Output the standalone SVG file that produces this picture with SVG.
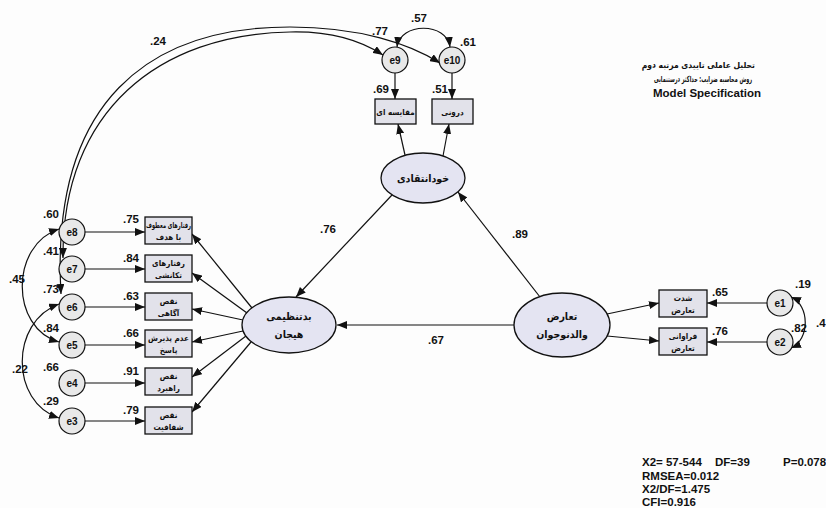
<svg xmlns="http://www.w3.org/2000/svg" width="826" height="508" viewBox="0 0 826 508">
<style>
.bg{fill:#fdfdfd}
.ln{fill:none;stroke:#111;stroke-width:1.2}
.box{fill:#e2e2ea;stroke:#111;stroke-width:1.3}
.lat{fill:#e4e4f2;stroke:#111;stroke-width:1.3}
.err{fill:#e8e8e8;stroke:#111;stroke-width:1.2}
.num{font-family:"Liberation Sans",Arial,sans-serif;font-size:11.5px;font-weight:bold;fill:#111}
.en{font-family:"Liberation Sans",Arial,sans-serif;font-size:10px;font-weight:bold;fill:#111;text-anchor:middle}
.fa{font-family:"DejaVu Sans Condensed","DejaVu Sans",sans-serif;font-size:8px;font-weight:bold;fill:#111;text-anchor:middle}
.fl{font-family:"DejaVu Sans Condensed","DejaVu Sans",sans-serif;font-size:10.5px;font-weight:bold;fill:#111;text-anchor:middle}
.ti{font-family:"DejaVu Sans Condensed","DejaVu Sans",sans-serif;font-size:8.5px;font-weight:bold;fill:#111;text-anchor:end}
.fit{font-family:"Liberation Sans",Arial,sans-serif;font-size:11.5px;font-weight:bold;fill:#111}
</style>
<defs>
<marker id="ah" viewBox="0 0 10 8" refX="10" refY="4" markerWidth="10" markerHeight="8" markerUnits="userSpaceOnUse" orient="auto-start-reverse"><path d="M0,0 L10,4 L0,8 z" fill="#111"/></marker>
</defs>
<rect class="bg" x="0" y="0" width="826" height="508"/>

<g id="connectors">
  <path class="ln" d="M63,258 C62,110 160,34 290,32 C330,31 360,40 383,55" marker-start="url(#ah)" marker-end="url(#ah)"/>
  <path class="ln" d="M61,294 C50,100 150,27 290,27 C360,27 410,44 440,63" marker-start="url(#ah)" marker-end="url(#ah)"/>
  <path class="ln" d="M397,47 C400,22 447,22 450,47" marker-start="url(#ah)" marker-end="url(#ah)"/>
  <path class="ln" d="M791,297 C810,305 810,340 791,348" marker-start="url(#ah)" marker-end="url(#ah)"/>
  <path class="ln" d="M59,229 C10,245 10,328 59,342" marker-start="url(#ah)" marker-end="url(#ah)"/>
  <path class="ln" d="M59,304 C10,322 10,402 59,418" marker-start="url(#ah)" marker-end="url(#ah)"/>
  <line class="ln" x1="85" y1="232" x2="145" y2="232" marker-end="url(#ah)"/>
  <line class="ln" x1="85" y1="269" x2="145" y2="269" marker-end="url(#ah)"/>
  <line class="ln" x1="85" y1="307" x2="145" y2="307" marker-end="url(#ah)"/>
  <line class="ln" x1="85" y1="345" x2="145" y2="345" marker-end="url(#ah)"/>
  <line class="ln" x1="85" y1="383" x2="145" y2="383" marker-end="url(#ah)"/>
  <line class="ln" x1="85" y1="421" x2="145" y2="421" marker-end="url(#ah)"/>
  <line class="ln" x1="395" y1="73" x2="395" y2="99" marker-end="url(#ah)"/>
  <line class="ln" x1="452" y1="73" x2="452" y2="99" marker-end="url(#ah)"/>
  <line class="ln" x1="767" y1="303" x2="707" y2="303" marker-end="url(#ah)"/>
  <line class="ln" x1="767" y1="342" x2="707" y2="342" marker-end="url(#ah)"/>
  <line class="ln" x1="252" y1="308" x2="192" y2="234" marker-end="url(#ah)"/>
  <line class="ln" x1="247" y1="313" x2="192" y2="273" marker-end="url(#ah)"/>
  <line class="ln" x1="243" y1="320" x2="192" y2="309" marker-end="url(#ah)"/>
  <line class="ln" x1="243" y1="331" x2="192" y2="342" marker-end="url(#ah)"/>
  <line class="ln" x1="246" y1="336" x2="192" y2="377" marker-end="url(#ah)"/>
  <line class="ln" x1="251" y1="342" x2="192" y2="412" marker-end="url(#ah)"/>
  <line class="ln" x1="405" y1="155" x2="398" y2="124" marker-end="url(#ah)"/>
  <line class="ln" x1="443" y1="156" x2="449" y2="124" marker-end="url(#ah)"/>
  <line class="ln" x1="607" y1="314" x2="659" y2="303" marker-end="url(#ah)"/>
  <line class="ln" x1="607" y1="336" x2="659" y2="341" marker-end="url(#ah)"/>
  <line class="ln" x1="392" y1="195" x2="296" y2="297" marker-end="url(#ah)"/>
  <line class="ln" x1="540" y1="297" x2="458" y2="192" marker-end="url(#ah)"/>
  <line class="ln" x1="514" y1="325" x2="337" y2="325" marker-end="url(#ah)"/>
</g>

<g id="e8"><circle class="err" cx="72" cy="232" r="13"/><text class="en" x="72" y="236">e8</text></g>
<g id="e7"><circle class="err" cx="72" cy="269" r="13"/><text class="en" x="72" y="273">e7</text></g>
<g id="e6"><circle class="err" cx="72" cy="307" r="13"/><text class="en" x="72" y="311">e6</text></g>
<g id="e5"><circle class="err" cx="72" cy="345" r="13"/><text class="en" x="72" y="349">e5</text></g>
<g id="e4"><circle class="err" cx="72" cy="383" r="13"/><text class="en" x="72" y="387">e4</text></g>
<g id="e3"><circle class="err" cx="72" cy="421" r="13"/><text class="en" x="72" y="425">e3</text></g>
<g id="e9"><circle class="err" cx="395" cy="60" r="13"/><text class="en" x="395" y="64">e9</text></g>
<g id="e10"><circle class="err" cx="452" cy="60" r="13"/><text class="en" x="452" y="64">e10</text></g>
<g id="e1"><circle class="err" cx="780" cy="303" r="13"/><text class="en" x="780" y="307">e1</text></g>
<g id="e2"><circle class="err" cx="780" cy="342" r="13"/><text class="en" x="780" y="346">e2</text></g>

<g id="goal"><rect class="box" x="145" y="217" width="47" height="27"/><text class="fa" x="168.5" y="228" textLength="45" lengthAdjust="spacingAndGlyphs">رفتارهای معطوف</text><text class="fa" x="168.5" y="240">با هدف</text></g>
<g id="impulse"><rect class="box" x="145" y="255" width="47" height="27"/><text class="fa" x="168.5" y="266">رفتارهای</text><text class="fa" x="168.5" y="278">تکانشی</text></g>
<g id="awareness"><rect class="box" x="145" y="293" width="47" height="27"/><text class="fa" x="168.5" y="304">نقص</text><text class="fa" x="168.5" y="316">آگاهی</text></g>
<g id="nonaccept"><rect class="box" x="145" y="330" width="47" height="27"/><text class="fa" x="168.5" y="341">عدم پذیرش</text><text class="fa" x="168.5" y="353">پاسخ</text></g>
<g id="strategy"><rect class="box" x="145" y="368" width="47" height="27"/><text class="fa" x="168.5" y="379">نقص</text><text class="fa" x="168.5" y="391">راهبرد</text></g>
<g id="clarity"><rect class="box" x="145" y="407" width="47" height="27"/><text class="fa" x="168.5" y="418">نقص</text><text class="fa" x="168.5" y="430">شفافیت</text></g>
<g id="compare"><rect class="box" x="375" y="99" width="41" height="25"/><text class="fa" x="395.5" y="114.5">مقایسه ای</text></g>
<g id="internal"><rect class="box" x="432" y="99" width="41" height="25"/><text class="fa" x="452.5" y="114.5">درونی</text></g>
<g id="intensity"><rect class="box" x="659" y="290" width="48" height="27"/><text class="fa" x="683" y="301">شدت</text><text class="fa" x="683" y="313">تعارض</text></g>
<g id="frequency"><rect class="box" x="659" y="328" width="48" height="27"/><text class="fa" x="683" y="339">فراوانی</text><text class="fa" x="683" y="351">تعارض</text></g>

<g id="selfcrit"><ellipse class="lat" cx="423" cy="178" rx="42" ry="25"/><text class="fl" x="423" y="182">خودانتقادی</text></g>
<g id="dysreg"><ellipse class="lat" cx="289" cy="325" rx="47" ry="28"/><text class="fl" x="289" y="320">بدتنظیمی</text><text class="fl" x="289" y="338">هیجان</text></g>
<g id="conflict"><ellipse class="lat" cx="562" cy="325" rx="48" ry="32"/><text class="fl" x="562" y="320">تعارض</text><text class="fl" x="562" y="338">والدنوجوان</text></g>

<g id="labels">
  <text class="num" x="150" y="45">.24</text>
  <text class="num" x="372" y="35">.77</text>
  <text class="num" x="411" y="22">.57</text>
  <text class="num" x="460" y="46">.61</text>
  <text class="num" x="373" y="93">.69</text>
  <text class="num" x="432" y="93">.51</text>
  <text class="num" x="43" y="218">.60</text>
  <text class="num" x="43" y="255">.41</text>
  <text class="num" x="43" y="293">.73</text>
  <text class="num" x="43" y="332">.84</text>
  <text class="num" x="43" y="371">.66</text>
  <text class="num" x="43" y="405">.29</text>
  <text class="num" x="9" y="283">.45</text>
  <text class="num" x="12" y="373">.22</text>
  <text class="num" x="123" y="223">.75</text>
  <text class="num" x="123" y="262">.84</text>
  <text class="num" x="123" y="300">.63</text>
  <text class="num" x="123" y="337">.66</text>
  <text class="num" x="123" y="375">.91</text>
  <text class="num" x="123" y="414">.79</text>
  <text class="num" x="320" y="233">.76</text>
  <text class="num" x="512" y="238">.89</text>
  <text class="num" x="428" y="344">.67</text>
  <text class="num" x="712" y="296">.65</text>
  <text class="num" x="712" y="335">.76</text>
  <text class="num" x="795" y="288">.19</text>
  <text class="num" x="791" y="332">.82</text>
  <text class="num" x="816" y="327">.4</text>
</g>

<g id="title">
  <text class="ti" x="755" y="68">تحلیل عاملی تاییدی مرتبه دوم</text>
  <text class="ti" x="752" y="82" textLength="98" lengthAdjust="spacingAndGlyphs">روش محاسبه ضرایب: حداکثر درستنمایی</text>
  <text class="fit" x="653" y="97" font-size="12">Model Specification</text>
</g>
<g id="fit">
  <text class="fit" x="642" y="466">X2= 57-544</text>
  <text class="fit" x="715" y="466">DF=39</text>
  <text class="fit" x="783" y="466">P=0.078</text>
  <text class="fit" x="642" y="480">RMSEA=0.012</text>
  <text class="fit" x="642" y="493">X2/DF=1.475</text>
  <text class="fit" x="642" y="506">CFI=0.916</text>
</g>
</svg>
